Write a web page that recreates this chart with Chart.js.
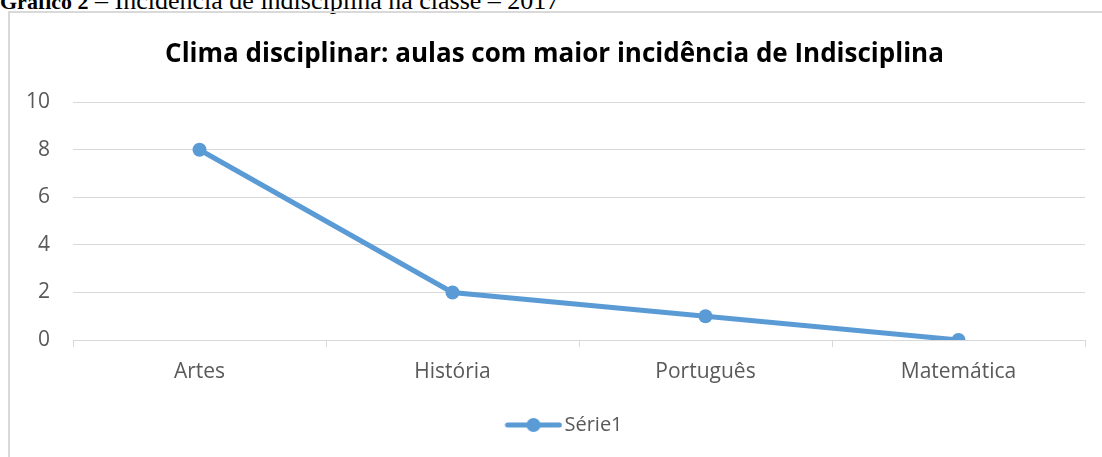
<!DOCTYPE html>
<html>
<head>
<meta charset="utf-8">
<script src="https://cdn.jsdelivr.net/npm/chart.js@4.4.1/dist/chart.umd.min.js"></script>
<style>
	html, body { margin: 0; padding: 0; background: #fff; overflow: hidden; }
	body { width: 1102px; height: 457px; position: relative; }
	.caption {
		position: absolute; left: 0; top: -12px; margin: 0;
		font-family: "Liberation Serif", serif; font-size: 26px; line-height: 26px;
		color: #000; white-space: nowrap;
	}
	.caption b { font-size: 22px; }
	.frame {
		position: absolute; left: 8px; top: 11px; width: 1094px; height: 446px;
		border-left: 2px solid #d9d9d9; border-top: 2px solid #d9d9d9;
		box-sizing: border-box;
	}
	.frame canvas { display: block; }
</style>
</head>
<body>
<p class="caption"><b>Gráfico 2</b> – Incidência de indisciplina na classe – 2017</p>
<div class="frame"><canvas id="chartLine"></canvas></div>
<script>
(function() {
	'use strict';

	var categories = ['Artes', 'História', 'Português', 'Matemática'];
	var serie1 = [8, 2, 1, 0];
	var yTicks = [0, 2, 4, 6, 8, 10];

	var blue = '#5b9bd5';
	var grey = '#d9d9d9';
	var textGrey = '#595959';
	var fontFamily = '"Open Sans", "Noto Sans", sans-serif';

	// legend marker: line with a dot, drawn on the right part of a wider canvas
	// so the marker lands a little left of the box centre
	var marker = document.createElement('canvas');
	marker.width = 84;
	marker.height = 16;
	var mctx = marker.getContext('2d');
	var mx = 84 - 58;
	mctx.strokeStyle = blue;
	mctx.lineWidth = 5;
	mctx.lineCap = 'round';
	mctx.beginPath();
	mctx.moveTo(mx + 3, 8);
	mctx.lineTo(mx + 55, 8);
	mctx.stroke();
	mctx.fillStyle = blue;
	mctx.beginPath();
	mctx.arc(mx + 29, 8, 7, 0, Math.PI * 2);
	mctx.fill();

	var canvas = document.getElementById('chartLine');
	canvas.width = 1092;
	canvas.height = 444;
	var ctx = canvas.getContext('2d');

	new Chart(ctx, {
		type: 'line',
		data: {
			labels: categories,
			datasets: [{
				label: 'Série1',
				data: serie1,
				borderColor: blue,
				backgroundColor: blue,
				borderWidth: 5,
				pointStyle: 'circle',
				pointRadius: 7,
				pointHoverRadius: 7,
				pointBorderWidth: 0,
				tension: 0
			}]
		},
		options: {
			responsive: false,
			animation: false,
			layout: {
				padding: { left: 14, right: 17, top: 0, bottom: 12 }
			},
			plugins: {
				tooltip: { enabled: false },
				title: {
					display: true,
					text: 'Clima disciplinar: aulas com maior incidência de Indisciplina',
					color: '#000',
					font: { family: fontFamily, size: 26, weight: 'bold' },
					padding: { top: 26, bottom: 32 }
				},
				legend: {
					display: true,
					position: 'bottom',
					labels: {
						usePointStyle: true,
						pointStyleWidth: 68,
						color: textGrey,
						padding: 10,
						font: { family: fontFamily, size: 20 },
						generateLabels: function(chart) {
							return [{
								text: 'Série1',
								pointStyle: marker,
								fontColor: textGrey,
								datasetIndex: 0,
								lineWidth: 0,
								strokeStyle: 'transparent',
								fillStyle: blue
							}];
						}
					}
				}
			},
			scales: {
				y: {
					min: 0,
					max: 10,
					afterBuildTicks: function(axis) {
						axis.ticks = yTicks.map(function(v) { return { value: v }; });
					},
					afterFit: function(axis) { axis.width = 49; },
					border: { display: false },
					grid: { color: grey, lineWidth: 1, drawTicks: false },
					ticks: {
						color: textGrey,
						padding: 23,
						font: { family: fontFamily, size: 21 }
					}
				},
				x: {
					offset: true,
					afterFit: function(axis) { axis.height = 65; },
					border: { display: true, color: grey, width: 1 },
					grid: {
						offset: true,
						drawOnChartArea: false,
						drawTicks: true,
						tickLength: 7,
						color: grey,
						lineWidth: 1
					},
					ticks: {
						color: textGrey,
						padding: 12,
						font: { family: fontFamily, size: 21 }
					}
				}
			}
		}
	});
})();
</script>
</body>
</html>
